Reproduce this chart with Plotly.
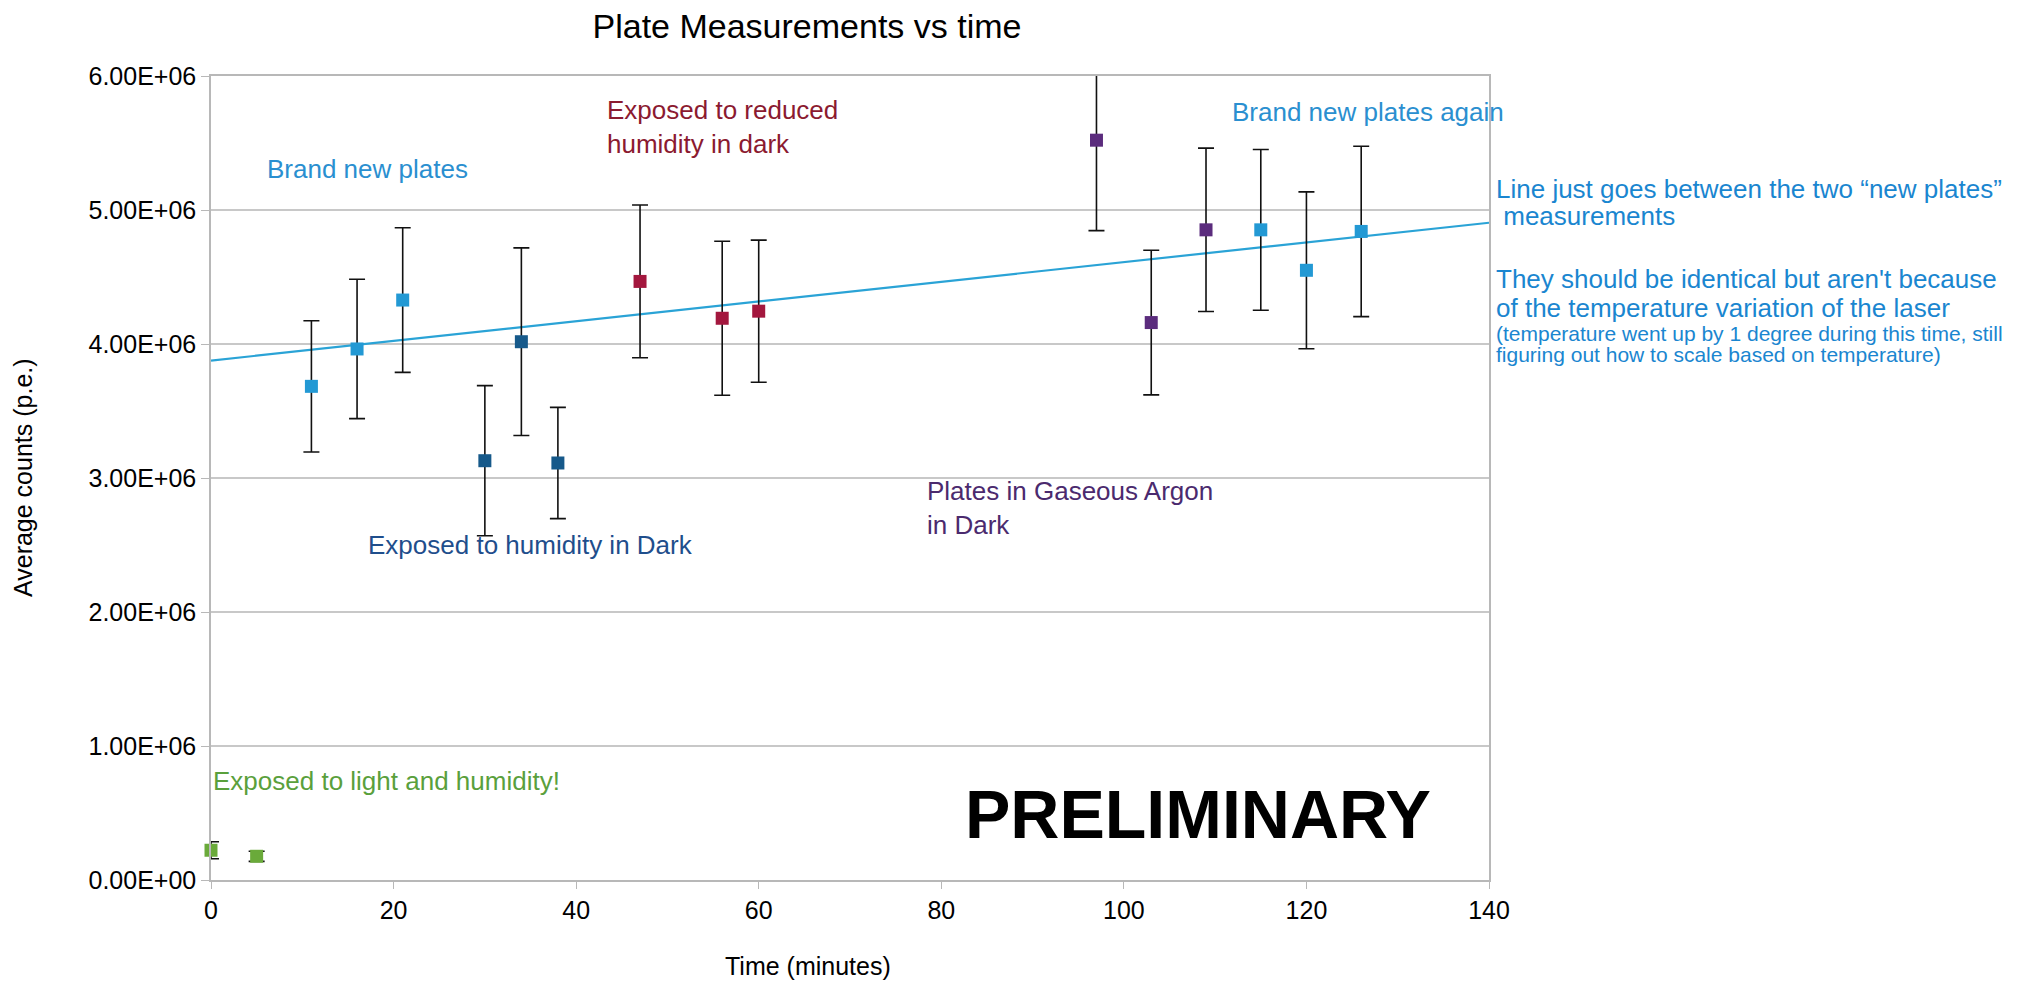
import plotly.graph_objects as go

# ---- data ----
new_x = [11, 16, 21, 115, 120, 126]
new_y = [3.684e6, 3.963e6, 4.328e6, 4.852e6, 4.550e6, 4.840e6]
new_err = [0.49e6, 0.52e6, 0.54e6, 0.60e6, 0.585e6, 0.636e6]

hum_x = [30, 34, 38]
hum_y = [3.129e6, 4.017e6, 3.112e6]
hum_err = [0.56e6, 0.70e6, 0.415e6]

red_x = [47, 56, 60]
red_y = [4.467e6, 4.192e6, 4.245e6]
red_err = [0.57e6, 0.575e6, 0.53e6]

arg_x = [97, 103, 109]
arg_y = [5.521e6, 4.160e6, 4.852e6]
arg_err = [0.675e6, 0.54e6, 0.61e6]

light_x = [0, 5]
light_y = [0.222e6, 0.177e6]
light_err = [0.063e6, 0.038e6]

trend_x = [0, 140]
trend_y = [3.876e6, 4.905e6]

y_ticks = [0, 1e6, 2e6, 3e6, 4e6, 5e6, 6e6]
y_ticktext = ["0.00E+00", "1.00E+06", "2.00E+06", "3.00E+06", "4.00E+06", "5.00E+06", "6.00E+06"]
x_ticks = [0, 20, 40, 60, 80, 100, 120, 140]

FONT = "Liberation Sans, Arial, Helvetica, sans-serif"

# plot area in pixels (for paper-coordinate helpers)
L, R, T, B = 211, 1489, 76, 880


def px_x(px):
    return (px - L) / (R - L)


def px_y(py):
    return (B - py) / (B - T)


fig = go.Figure()

fig.add_trace(go.Scatter(x=trend_x, y=trend_y, mode="lines",
                         line=dict(color="#2aa3d6", width=2.2), hoverinfo="skip"))


def add_series(x, y, err, color, clip=True):
    fig.add_trace(go.Scatter(
        x=x, y=y, mode="markers",
        marker=dict(symbol="square", size=13, color=color,
                    line=dict(color=color, width=0)),
        error_y=dict(type="data", array=err, visible=True, color="#111111",
                     thickness=1.6, width=8),
        cliponaxis=clip))


add_series(new_x, new_y, new_err, "#2399d4")
add_series(hum_x, hum_y, hum_err, "#16598a")
add_series(red_x, red_y, red_err, "#a3173e")
add_series(arg_x, arg_y, arg_err, "#5b2c7d")
add_series(light_x, light_y, light_err, "#6aaa3a", clip=False)

ANN_SIZE = 26
ann = [
    dict(x=5.9, y=5.306e6, text="Brand new plates", color="#2a8fd0"),
    dict(x=43.2, y=5.62e6, text="Exposed to reduced<br>humidity in dark", color="#8b1a30"),
    dict(x=111.6, y=5.73e6, text="Brand new plates again", color="#2a8fd0"),
    dict(x=17.0, y=2.5e6, text="Exposed to humidity in Dark", color="#1f4e8c"),
    dict(x=78.2, y=2.776e6, text="Plates in Gaseous Argon<br>in Dark", color="#4b2a6e"),
    dict(x=0.0, y=0.739e6, text="Exposed to light and humidity!", color="#5aa03c"),
]
for a in ann:
    fig.add_annotation(x=a["x"], y=a["y"], text=a["text"], showarrow=False,
                       xanchor="left", yanchor="middle", align="left",
                       font=dict(family=FONT, size=ANN_SIZE, color=a["color"]))

fig.add_annotation(x=108.1, y=0.49e6, text="<b>PRELIMINARY</b>", showarrow=False,
                   xanchor="center", yanchor="middle",
                   font=dict(family=FONT, size=68, color="#000000"))

right_color = "#1a86d0"
right_lines = [
    ("Line just goes between the two \u201cnew plates\u201d", 189, 26),
    ("&nbsp;measurements", 216, 26),
    ("They should be identical but aren't because", 279, 26),
    ("of the temperature variation of the laser", 308, 26),
    ("(temperature went up by 1 degree during this time, still", 333, 21),
    ("figuring out how to scale based on temperature)", 355, 21),
]
for txt, ypx, sz in right_lines:
    fig.add_annotation(xref="paper", yref="paper", x=px_x(1494), y=px_y(ypx),
                       text=txt, showarrow=False, xanchor="left", yanchor="middle",
                       align="left", font=dict(family=FONT, size=sz, color=right_color))

# axis titles
fig.add_annotation(xref="paper", yref="paper", x=px_x(23), y=px_y(477),
                   text="Average counts (p.e.)", textangle=-90, showarrow=False,
                   xanchor="center", yanchor="middle",
                   font=dict(family=FONT, size=25, color="#000000"))
fig.add_annotation(xref="paper", yref="paper", x=px_x(808), y=px_y(966),
                   text="Time (minutes)", showarrow=False,
                   xanchor="center", yanchor="middle",
                   font=dict(family=FONT, size=25, color="#000000"))

fig.update_layout(
    width=2020, height=984,
    margin=dict(l=L, r=2020 - R, t=T, b=984 - B),
    paper_bgcolor="white", plot_bgcolor="white",
    showlegend=False,
    font=dict(family=FONT, color="#000000"),
    title=dict(text="Plate Measurements vs time", x=px_x(807), xref="paper",
               y=1 - 26 / 984, yanchor="middle", xanchor="center",
               font=dict(family=FONT, size=34, color="#000000")),
    xaxis=dict(range=[0, 140], tickvals=x_ticks, showgrid=False, zeroline=False,
               showline=True, linecolor="#b8b8b8", linewidth=1.5, mirror=True,
               ticks="outside", ticklen=7, tickcolor="#b8b8b8",
               tickfont=dict(family=FONT, size=25, color="#000000")),
    yaxis=dict(range=[0, 6e6], tickvals=y_ticks, ticktext=y_ticktext,
               showgrid=True, gridcolor="#c8c8c8", gridwidth=1.5, zeroline=False,
               showline=True, linecolor="#b8b8b8", linewidth=1.5, mirror=True,
               ticks="outside", ticklen=8, tickcolor="#b8b8b8",
               tickfont=dict(family=FONT, size=25, color="#000000")),
)

fig.write_html("out.html")
